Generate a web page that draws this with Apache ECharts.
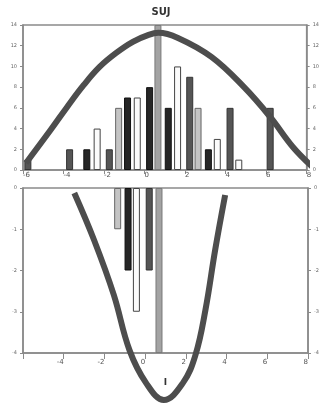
<!DOCTYPE html>
<html><head><meta charset="utf-8">
<script src="https://cdn.jsdelivr.net/npm/echarts@6/dist/echarts.min.js"></script>
<style>html,body{margin:0;padding:0;background:#fff}#c{width:322px;height:408px}</style>
</head><body><div id="c"></div>
<script>
// ---- data ----
const titleText = 'SUJ';
const xAxisName = 'I';
const xMin = -6, xMax = 8, xStep = 2;
const topYMin = 0, topYMax = 14, topYStep = 2;
const botYMin = -4, botYMax = 0, botYStep = 1;

const topBarX = [-5.76, -3.70, -2.85, -2.34, -1.74, -1.28, -0.84, -0.36, 0.25, 0.66, 1.17, 1.63, 2.23, 2.64, 3.15, 3.59, 4.22, 4.65, 6.20];
const topBarY = [1, 2, 2, 4, 2, 6, 7, 7, 8, 14, 6, 10, 9, 6, 2, 3, 6, 1, 6];
const topBarTone = ['d','d','k','w','d','l','k','w','k','m','k','w','d','l','k','w','d','w','d'];

const botBarX = [-1.35, -0.84, -0.43, 0.20, 0.68];
const botBarY = [-1, -2, -3, -2, -4];
const botBarTone = ['l','k','w','d','m'];

const topCurveX = [-5.85, -4.64, -3.82, -3.00, -2.22, -1.40, -0.58, 0.20, 0.68, 1.65, 3.30, 4.90, 6.20, 7.32, 8.29];
const topCurveY = [0.68, 3.86, 6.09, 8.21, 9.95, 11.3, 12.37, 13.04, 13.24, 12.75, 10.92, 8.02, 5.12, 2.22, 0.29];

const botCurveX = [-3.48, -2.51, -1.54, -0.77, 0.05, 0.92, 1.85, 2.47, 2.96, 3.44, 3.93];
const botCurveY = [-0.12, -1.26, -2.59, -3.93, -4.73, -5.14, -4.73, -4.05, -2.96, -1.50, -0.17];

// ---- styles ----
const toneFill = {k:'#262626', d:'#555555', m:'#a3a3a3', l:'#c4c4c4', w:'#fbfbfb'};
const toneBorder = {k:'#111', d:'#333', m:'#7a7a7a', l:'#666', w:'#444'};
const axisCol = '#8a8a8a';
const labelCol = '#555';
const FONT = 'DejaVu Sans';

function barData(xs, ys, tones) {
  return xs.map((x, i) => ({
    value: [x, ys[i]],
    itemStyle: {color: toneFill[tones[i]], borderColor: toneBorder[tones[i]], borderWidth: 1}
  }));
}
function pairs(xs, ys) { return xs.map((x, i) => [x, ys[i]]); }

function xAx(gridIndex, opts) {
  return Object.assign({
    type: 'value', gridIndex, min: xMin, max: xMax, interval: xStep,
    axisLine: {show: true, onZero: false, lineStyle: {color: axisCol, width: 1.5}},
    axisTick: {show: true, length: 4, lineStyle: {color: axisCol}},
    splitLine: {show: false},
    axisLabel: {fontSize: 7, color: labelCol, fontFamily: FONT}
  }, opts);
}
function yAx(gridIndex, min, max, step, position) {
  return {
    type: 'value', gridIndex, min, max, interval: step, position,
    axisLine: {show: true, onZero: false, lineStyle: {color: axisCol, width: 1.5}},
    axisTick: {show: true, length: 3, lineStyle: {color: axisCol}},
    splitLine: {show: false},
    axisLabel: {fontSize: 5, color: '#666', margin: 6, fontFamily: FONT}
  };
}

const chart = echarts.init(document.getElementById('c'), null, {renderer: 'canvas'});
chart.setOption({
  animation: false,
  backgroundColor: '#fff',
  title: {text: titleText, left: 'center', top: 2, textStyle: {fontSize: 10, color: '#333', fontWeight: 'bold', fontFamily: FONT}},
  grid: [
    {left: 23, top: 25, width: 290, height: 145, show: true, borderColor: axisCol, borderWidth: 1.5},
    {left: 23, top: 188, width: 290, height: 165, show: true, borderColor: axisCol, borderWidth: 1.5}
  ],
  xAxis: [
    xAx(0, {axisLabel: {fontSize: 7, color: labelCol, fontFamily: FONT, align: 'left', margin: 2}}),
    xAx(1, {
      name: xAxisName, nameLocation: 'middle', nameGap: 25,
      nameTextStyle: {fontSize: 9, color: '#333', fontFamily: FONT, fontWeight: 'bold'},
      axisTick: {show: true, length: 6, lineStyle: {color: axisCol}},
      axisLabel: {fontSize: 7, color: labelCol, fontFamily: FONT, align: 'right', margin: 6,
        formatter: v => (v === xMin ? '' : String(v))}
    })
  ],
  yAxis: [
    yAx(0, topYMin, topYMax, topYStep, 'left'),
    yAx(0, topYMin, topYMax, topYStep, 'right'),
    yAx(1, botYMin, botYMax, botYStep, 'left'),
    yAx(1, botYMin, botYMax, botYStep, 'right')
  ],
  series: [
    {type: 'bar', xAxisIndex: 0, yAxisIndex: 0, barWidth: 7, data: barData(topBarX, topBarY, topBarTone), z: 2},
    {type: 'bar', xAxisIndex: 1, yAxisIndex: 2, barWidth: 7, data: barData(botBarX, botBarY, botBarTone), z: 2},
    {type: 'line', xAxisIndex: 0, yAxisIndex: 0, data: pairs(topCurveX, topCurveY), smooth: 0.4, showSymbol: false, clip: false,
      lineStyle: {color: '#4d4d4d', width: 6}, z: 5},
    {type: 'line', xAxisIndex: 1, yAxisIndex: 2, data: pairs(botCurveX, botCurveY), smooth: 0.4, showSymbol: false, clip: false,
      lineStyle: {color: '#4d4d4d', width: 6}, z: 5}
  ]
});
</script></body></html>
